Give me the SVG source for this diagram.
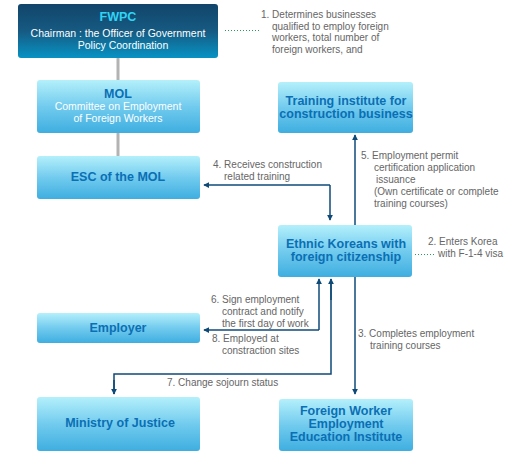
<svg xmlns="http://www.w3.org/2000/svg" width="505" height="455" viewBox="0 0 505 455">
<defs>
<linearGradient id="gl" x1="0" y1="0" x2="0" y2="1">
<stop offset="0" stop-color="#b4f0fb"/>
<stop offset="0.5" stop-color="#72cbee"/>
<stop offset="1" stop-color="#3eaee0"/>
</linearGradient>
<linearGradient id="gd" x1="0" y1="0" x2="0" y2="1">
<stop offset="0" stop-color="#12446a"/>
<stop offset="0.5" stop-color="#165a82"/>
<stop offset="1" stop-color="#0793c4"/>
</linearGradient>
<marker id="ah" viewBox="0 0 8 8" refX="7" refY="4" markerWidth="6" markerHeight="6" orient="auto" markerUnits="userSpaceOnUse">
<path d="M0,0 L8,4 L0,8 Z" fill="#0e4a78"/>
</marker>
<style>
.box{fill:url(#gl);}
.t{font-family:"Liberation Sans",Arial,sans-serif;font-size:12.5px;font-weight:bold;fill:#0a6fb5;text-anchor:middle;}
.s{font-family:"Liberation Sans",Arial,sans-serif;font-size:10.5px;fill:#ffffff;text-anchor:middle;}
.l{font-family:"Liberation Sans",Arial,sans-serif;font-size:10px;fill:#666666;}
.c{fill:none;stroke:#0e4a78;stroke-width:1.5;}
.d{fill:none;stroke:#2a9a5a;stroke-width:1;stroke-dasharray:1 2;}
</style>
</defs>
<rect width="505" height="455" fill="#ffffff"/>
<g id="connectors">
<line x1="118" y1="58" x2="118" y2="156" stroke="#b3b3b3" stroke-width="3"/>
<line class="d" x1="225" y1="30.5" x2="259" y2="30.5"/>
<line class="d" x1="415" y1="254.5" x2="434" y2="254.5"/>
<line class="c" x1="330" y1="185" x2="204" y2="185" marker-end="url(#ah)"/>
<line class="c" x1="330" y1="185" x2="330" y2="220" marker-end="url(#ah)"/>
<line class="c" x1="355" y1="225" x2="355" y2="135" marker-end="url(#ah)"/>
<line class="c" x1="355" y1="277" x2="355" y2="394" marker-end="url(#ah)"/>
<line class="c" x1="319" y1="330" x2="319" y2="279" marker-end="url(#ah)"/>
<line class="c" x1="319" y1="330" x2="204" y2="330" marker-end="url(#ah)"/>
<polyline class="c" points="331,279 331,374 114,374 114,394"/>
<line class="c" x1="331" y1="300" x2="331" y2="279" marker-end="url(#ah)"/>
<line class="c" x1="114" y1="380" x2="114" y2="394" marker-end="url(#ah)"/>
</g>
<g id="fwpc">
<rect x="18" y="4" width="200" height="54" rx="3" fill="url(#gd)"/>
<text x="118" y="21" class="t" style="fill:#2fd3f5">FWPC</text>
<text x="118" y="37" class="s">Chairman : the Officer of Government</text>
<text x="123" y="49" class="s">Policy Coordination</text>
</g>
<g id="mol">
<rect class="box" x="37" y="80" width="163" height="53" rx="3"/>
<text x="118" y="98" class="t">MOL</text>
<text x="118" y="110" class="s">Committee on Employment</text>
<text x="118" y="122" class="s">of Foreign Workers</text>
</g>
<g id="esc">
<rect class="box" x="37" y="156" width="163" height="43" rx="3"/>
<text x="118" y="181" class="t">ESC of the MOL</text>
</g>
<g id="training">
<rect class="box" x="278" y="82" width="135" height="51" rx="3"/>
<text x="346" y="105" class="t">Training institute for</text>
<text x="346" y="118" class="t">construction business</text>
</g>
<g id="ethnic">
<rect class="box" x="278" y="225" width="134" height="52" rx="3"/>
<text x="346" y="248" class="t">Ethnic Koreans with</text>
<text x="346" y="261" class="t">foreign citizenship</text>
</g>
<g id="employer">
<rect class="box" x="37" y="313" width="163" height="30" rx="3"/>
<text x="118" y="332" class="t">Employer</text>
</g>
<g id="justice">
<rect class="box" x="37" y="397" width="163" height="54" rx="3"/>
<text x="120" y="427" class="t">Ministry of Justice</text>
</g>
<g id="fwei">
<rect class="box" x="279" y="399" width="134" height="52" rx="3"/>
<text x="346" y="415" class="t">Foreign Worker</text>
<text x="346" y="428" class="t">Employment</text>
<text x="346" y="441" class="t">Education Institute</text>
</g>
<g id="labels">
<text class="l" x="261" y="18">1. Determines businesses</text>
<text class="l" x="272" y="30">qualified to employ foreign</text>
<text class="l" x="272" y="41">workers, total number of</text>
<text class="l" x="272" y="53">foreign workers, and</text>
<text class="l" x="428" y="245">2. Enters Korea</text>
<text class="l" x="438" y="257">with F-1-4 visa</text>
<text class="l" x="213" y="168">4. Receives construction</text>
<text class="l" x="224" y="180">related training</text>
<text class="l" x="361" y="159">5. Employment permit</text>
<text class="l" x="374" y="171">certification application</text>
<text class="l" x="376" y="183">issuance</text>
<text class="l" x="374" y="195">(Own certificate or complete</text>
<text class="l" x="374" y="207">training courses)</text>
<text class="l" x="211" y="303">6. Sign employment</text>
<text class="l" x="222" y="315">contract and notify</text>
<text class="l" x="222" y="327">the first day of work</text>
<text class="l" x="212" y="342">8. Employed at</text>
<text class="l" x="222" y="354">constraction sites</text>
<text class="l" x="167" y="386">7. Change sojourn status</text>
<text class="l" x="358" y="337">3. Completes employment</text>
<text class="l" x="370" y="349">training courses</text>
</g>
</svg>
